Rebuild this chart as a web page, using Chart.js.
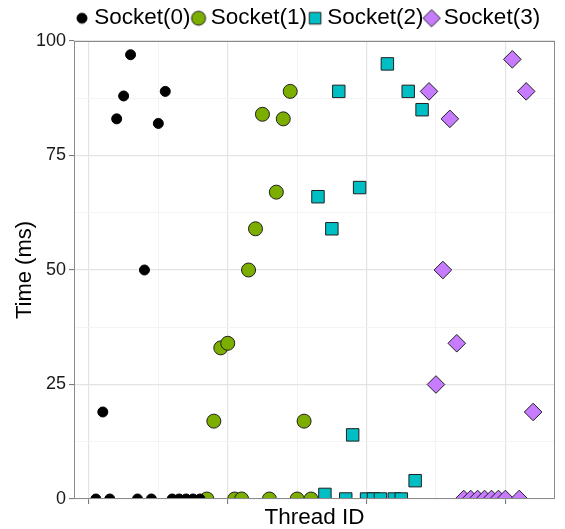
<!DOCTYPE html>
<html>
<head>
<meta charset="utf-8">
<script src="https://cdn.jsdelivr.net/npm/chart.js@4"></script>
<style>
  html, body { margin: 0; padding: 0; background: #fff; }
  #wrap { width: 565px; height: 529px; }
</style>
</head>
<body>
<div id="wrap"><canvas id="myChart" width="565" height="529"></canvas></div>
<script>
// ═══════════════════════════════════════
//  DATA
// ═══════════════════════════════════════

const socketLabels = ['Socket(0)', 'Socket(1)', 'Socket(2)', 'Socket(3)'];

const socket0Threads = [1, 2, 3, 4, 5, 6, 7, 8, 9, 10, 11, 12, 13, 14, 15, 16];
const socket0Time    = [0, 19, 0, 83, 88, 97, 0, 50, 0, 82, 89, 0, 0, 0, 0, 0];

const socket1Threads = [17, 18, 19, 20, 21, 22, 23, 24, 25, 26, 27, 28, 29, 30, 31, 32];
const socket1Time    = [0, 17, 33, 34, 0, 0, 50, 59, 84, 0, 67, 83, 89, 0, 17, 0];

const socket2Threads = [33, 34, 35, 36, 37, 38, 39, 40, 41, 42, 43, 44, 45, 46, 47, 48];
const socket2Time    = [66, 1, 59, 89, 0, 14, 68, 0, 0, 0, 95, 0, 0, 89, 4, 85];

const socket3Threads = [49, 50, 51, 52, 53, 54, 55, 56, 57, 58, 59, 60, 61, 62, 63, 64];
const socket3Time    = [89, 25, 50, 83, 34, 0, 0, 0, 0, 0, 0, 0, 96, 0, 89, 19];

const xTicks = [0, 10, 20, 30, 40, 50, 60];
const yTicks = [0, 12.5, 25, 37.5, 50, 62.5, 75, 87.5, 100];

// ═══════════════════════════════════════
//  STYLE
// ═══════════════════════════════════════

const FONT = 'Liberation Sans';
Chart.defaults.font.family = FONT;

const markers = [
    { style: 'circle',  fill: '#000000', stroke: '#000000', r: 5 },
    { style: 'circle',  fill: '#7CAE00', stroke: '#1f1f1f', r: 7 },
    { style: 'rect',    fill: '#00BFC4', stroke: '#1f1f1f', r: 8.8 },
    { style: 'rectRot', fill: '#C77CFF', stroke: '#1f1f1f', r: 8.8 }
];

const series = [
    [socket0Threads, socket0Time],
    [socket1Threads, socket1Time],
    [socket2Threads, socket2Time],
    [socket3Threads, socket3Time]
];

// small canvas used as legend key, drawn with chart.js own point routine
function makeKey(m, r) {
    const c = document.createElement('canvas');
    c.width = 22; c.height = 22;
    const k = c.getContext('2d');
    k.fillStyle = m.fill;
    k.strokeStyle = m.stroke;
    k.lineWidth = 1;
    Chart.helpers.drawPoint(k, { pointStyle: m.style, radius: r, rotation: 0, borderWidth: 1 }, 11, 11);
    return c;
}
const legendKeys = markers.map((m, i) => makeKey(m, [5, 7, 8.2, 8.6][i]));

const isMajorX = v => v % 20 === 0;
const isMajorY = v => v % 25 === 0;

// panel border (ggplot style) drawn over the data
const panelBorder = {
    id: 'panelBorder',
    afterDatasetsDraw(chart) {
        const { ctx, chartArea: a } = chart;
        ctx.save();
        ctx.strokeStyle = '#8a8a8a';
        ctx.lineWidth = 1;
        ctx.strokeRect(Math.round(a.left) + 0.5, Math.round(a.top) + 0.5,
            Math.round(a.right - a.left) - 1, Math.round(a.bottom - a.top) - 1);
        ctx.restore();
    }
};

// force the legend band to a fixed height
const legendHeight = {
    id: 'legendHeight',
    beforeInit(chart) {
        const lg = chart.legend;
        if (!lg || lg._fixed) return;
        const fit = lg.fit;
        lg.fit = function () { fit.call(this); this.height = 41; };
        lg._fixed = true;
    }
};

// ═══════════════════════════════════════
//  CHART
// ═══════════════════════════════════════

const ctx = document.getElementById('myChart').getContext('2d');
const chart = new Chart(ctx, {
    type: 'scatter',
    data: {
        datasets: series.map(([xs, ys], i) => ({
            label: socketLabels[i],
            data: xs.map((x, j) => ({ x: x, y: ys[j] })),
            pointStyle: markers[i].style,
            pointRadius: markers[i].r,
            backgroundColor: markers[i].fill,
            borderColor: markers[i].stroke,
            borderWidth: 1,
            clip: 0
        }))
    },
    options: {
        responsive: false,
        animation: false,
        devicePixelRatio: 1,
        layout: { padding: { left: 0, right: 10, top: 0, bottom: 0 } },
        plugins: {
            tooltip: { enabled: false },
            legend: {
                position: 'top',
                align: 'start',
                fullSize: false,
                labels: {
                    usePointStyle: true,
                    boxWidth: 2,
                    boxHeight: 11,
                    padding: 7,
                    color: '#000',
                    font: { family: FONT, size: 22.5, lineHeight: 1 },
                    generateLabels(c) {
                        const items = Chart.defaults.plugins.legend.labels.generateLabels(c);
                        items.forEach((it, i) => { it.pointStyle = legendKeys[i]; });
                        return items;
                    }
                }
            }
        },
        scales: {
            x: {
                type: 'linear',
                min: -2.15,
                max: 67.15,
                afterBuildTicks: s => { s.ticks = xTicks.map(v => ({ value: v })); },
                afterFit: s => { s.height = 30; },
                ticks: { display: false },
                border: { display: false },
                grid: {
                    color: c => isMajorX(c.tick.value) ? '#e4e4e4' : '#f4f4f4',
                    lineWidth: c => isMajorX(c.tick.value) ? 1.2 : 1,
                    tickColor: c => isMajorX(c.tick.value) ? '#6e6e6e' : 'rgba(0,0,0,0)',
                    tickLength: 5,
                    tickWidth: 1
                },
                title: {
                    display: true,
                    text: 'Thread ID',
                    color: '#000',
                    font: { family: FONT, size: 22.5, lineHeight: 1 },
                    padding: { top: 0, bottom: 0 }
                }
            },
            y: {
                min: 0,
                max: 100,
                afterBuildTicks: s => { s.ticks = yTicks.map(v => ({ value: v })); },
                afterFit: s => { s.width = 74; },
                border: { display: false },
                ticks: {
                    color: '#1a1a1a',
                    padding: 3,
                    font: { family: FONT, size: 18 },
                    callback: v => isMajorY(v) ? String(v) : ''
                },
                grid: {
                    color: c => isMajorY(c.tick.value) ? '#e4e4e4' : '#f4f4f4',
                    lineWidth: c => isMajorY(c.tick.value) ? 1.2 : 1,
                    tickColor: c => isMajorY(c.tick.value) ? '#6e6e6e' : 'rgba(0,0,0,0)',
                    tickLength: 5,
                    tickWidth: 1
                },
                title: {
                    display: true,
                    text: 'Time (ms)',
                    color: '#000',
                    font: { family: FONT, size: 22, lineHeight: 1 },
                    padding: { top: 14, bottom: 0 }
                }
            }
        }
    },
    plugins: [panelBorder, legendHeight]
});
</script>
</body>
</html>
